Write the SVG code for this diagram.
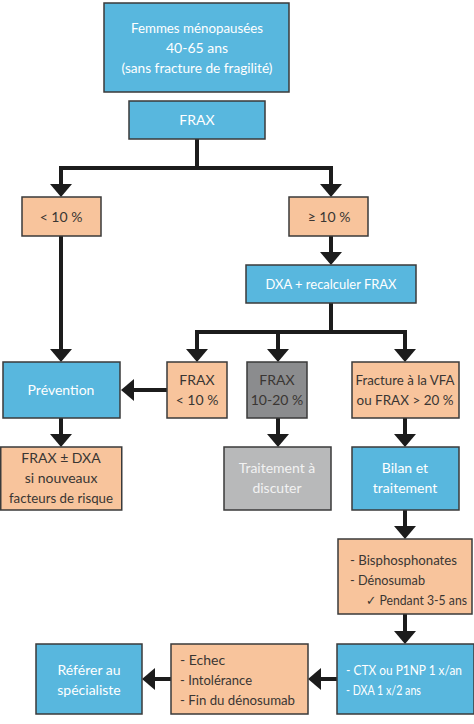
<svg xmlns="http://www.w3.org/2000/svg" width="474" height="724" viewBox="0 0 474 724">
<defs>
<style>
.b{fill:#58b7de;stroke:#3a3a3a;stroke-width:1.5}
.o{fill:#f8c49c;stroke:#3a3a3a;stroke-width:1.5}
.g{fill:#8b8c8e;stroke:#3a3a3a;stroke-width:1.5}
.lg{fill:#b8b9ba;stroke:#3a3a3a;stroke-width:1.5}
text{font-family:Lato,"Open Sans",sans-serif;font-size:14px}
.w{fill:#ffffff;text-anchor:middle}
.d{fill:#3a3633;text-anchor:middle}
.dl{fill:#3a3633}
.wl{fill:#ffffff}
.sm{font-size:13px}
.c{fill:none;stroke:#1c1c1c;stroke-width:4}
</style>
<marker id="ah" markerUnits="userSpaceOnUse" markerWidth="14" markerHeight="22" viewBox="0 0 14 22" refX="4" refY="11" orient="auto">
<path d="M0,0 L13,11 L0,22 z" fill="#1c1c1c"/>
</marker>
</defs>
<rect width="474" height="724" fill="#ffffff"/>
<g id="connectors">
<path class="c" d="M197,139 V168"/>
<path class="c" d="M59,168 H333"/>
<path class="c" d="M61,168 V188" marker-end="url(#ah)"/>
<path class="c" d="M331,168 V188" marker-end="url(#ah)"/>
<path class="c" d="M331,236 V256" marker-end="url(#ah)"/>
<path class="c" d="M61,236 V353" marker-end="url(#ah)"/>
<path class="c" d="M331,303 V332"/>
<path class="c" d="M195,332 H407"/>
<path class="c" d="M197,332 V353" marker-end="url(#ah)"/>
<path class="c" d="M278,332 V353" marker-end="url(#ah)"/>
<path class="c" d="M405,332 V353" marker-end="url(#ah)"/>
<path class="c" d="M167,390 H130" marker-end="url(#ah)"/>
<path class="c" d="M61,418 V438" marker-end="url(#ah)"/>
<path class="c" d="M278,418 V438" marker-end="url(#ah)"/>
<path class="c" d="M405,418 V438" marker-end="url(#ah)"/>
<path class="c" d="M405,510 V530" marker-end="url(#ah)"/>
<path class="c" d="M405,614 V635" marker-end="url(#ah)"/>
<path class="c" d="M337,679 H317" marker-end="url(#ah)"/>
<path class="c" d="M171,679 H151" marker-end="url(#ah)"/>
</g>
<g id="n-femmes">
<rect class="b" x="104" y="3" width="185" height="89"/>
<text class="w" x="197" y="33" textLength="132" lengthAdjust="spacingAndGlyphs">Femmes ménopausées</text>
<text class="w" x="197" y="53">40-65 ans</text>
<text class="w" x="197" y="73" textLength="151" lengthAdjust="spacingAndGlyphs">(sans fracture de fragilité)</text>
</g>
<g id="n-frax">
<rect class="b" x="129" y="101" width="136" height="38"/>
<text class="w" x="197" y="125">FRAX</text>
</g>
<g id="n-lt10">
<rect class="o" x="22" y="197" width="79" height="39"/>
<text class="d" x="61" y="222">&lt; 10 %</text>
</g>
<g id="n-ge10">
<rect class="o" x="289" y="197" width="79" height="39"/>
<text class="d" x="329" y="222">≥ 10 %</text>
</g>
<g id="n-dxa">
<rect class="b" x="246" y="265" width="170" height="38"/>
<text class="w" x="331" y="289" textLength="131" lengthAdjust="spacingAndGlyphs">DXA + recalculer FRAX</text>
</g>
<g id="n-prevention">
<rect class="b" x="3" y="362" width="117" height="56"/>
<text class="w" x="61" y="395">Prévention</text>
</g>
<g id="n-frax-lt10">
<rect class="o" x="167" y="362" width="60" height="56"/>
<text class="d" x="197" y="385">FRAX</text>
<text class="d" x="197" y="405">&lt; 10 %</text>
</g>
<g id="n-frax-10-20">
<rect class="g" x="247" y="362" width="60" height="56"/>
<text class="d" x="277" y="385">FRAX</text>
<text class="d" x="277" y="405">10-20 %</text>
</g>
<g id="n-fracture">
<rect class="o" x="352" y="362" width="107" height="56"/>
<text class="d" x="405" y="385" textLength="99" lengthAdjust="spacingAndGlyphs">Fracture à la VFA</text>
<text class="d" x="405" y="405" textLength="97" lengthAdjust="spacingAndGlyphs">ou FRAX &gt; 20 %</text>
</g>
<g id="n-frax-dxa">
<rect class="o" x="0.75" y="447" width="121" height="63"/>
<text class="d" x="61" y="463">FRAX ± DXA</text>
<text class="d" x="61" y="483">si nouveaux</text>
<text class="d" x="61" y="503" textLength="104" lengthAdjust="spacingAndGlyphs">facteurs de risque</text>
</g>
<g id="n-traitement-discuter">
<rect class="lg" x="224" y="447" width="107" height="63"/>
<text class="w" x="277" y="473" style="fill:#f2f2f2">Traitement à</text>
<text class="w" x="277" y="493" style="fill:#f2f2f2">discuter</text>
</g>
<g id="n-bilan">
<rect class="b" x="352" y="447" width="107" height="63"/>
<text class="w" x="405" y="473">Bilan et</text>
<text class="w" x="405" y="493">traitement</text>
</g>
<g id="n-bisphos">
<rect class="o" x="338" y="539" width="134" height="75"/>
<text class="dl" x="350" y="565" textLength="107" lengthAdjust="spacingAndGlyphs">- Bisphosphonates</text>
<text class="dl" x="350" y="585" textLength="75" lengthAdjust="spacingAndGlyphs">- Dénosumab</text>
<text class="dl sm" x="366" y="605" textLength="101" lengthAdjust="spacingAndGlyphs">✓ Pendant 3-5 ans</text>
</g>
<g id="n-ctx">
<rect class="b" x="337" y="644" width="137" height="70"/>
<text class="wl sm" x="346" y="675" textLength="116" lengthAdjust="spacingAndGlyphs">- CTX ou P1NP 1 x/an</text>
<text class="wl" x="346" y="695" textLength="75" lengthAdjust="spacingAndGlyphs">- DXA 1 x/2 ans</text>
</g>
<g id="n-echec">
<rect class="o" x="171" y="644" width="137" height="70"/>
<text class="dl" x="180" y="665">- Echec</text>
<text class="dl" x="180" y="685" textLength="72" lengthAdjust="spacingAndGlyphs">- Intolérance</text>
<text class="dl" x="180" y="705" textLength="115" lengthAdjust="spacingAndGlyphs">- Fin du dénosumab</text>
</g>
<g id="n-referer">
<rect class="b" x="36" y="644" width="106" height="70"/>
<text class="w" x="89" y="675">Référer au</text>
<text class="w" x="89" y="695">spécialiste</text>
</g>
</svg>
